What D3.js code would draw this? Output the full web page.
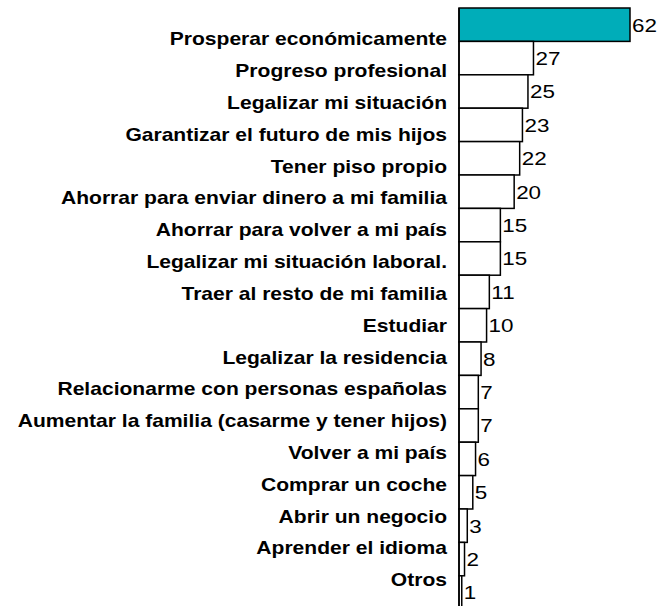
<!DOCTYPE html>
<html>
<head>
<meta charset="utf-8">
<script src="https://cdn.jsdelivr.net/npm/d3@7"></script>
<style>
  body { margin: 0; background: #fff; }
  svg { display: block; font-family: "Liberation Sans", Arial, sans-serif; }
</style>
</head>
<body>
<div id="chart"></div>
<script>
// ----- data ----- //
var categories = [
    "Prosperar económicamente",
    "Progreso profesional",
    "Legalizar mi situación",
    "Garantizar el futuro de mis hijos",
    "Tener piso propio",
    "Ahorrar para enviar dinero a mi familia",
    "Ahorrar para volver a mi país",
    "Legalizar mi situación laboral.",
    "Traer al resto de mi familia",
    "Estudiar",
    "Legalizar la residencia",
    "Relacionarme con personas españolas",
    "Aumentar la familia (casarme y tener hijos)",
    "Volver a mi país",
    "Comprar un coche",
    "Abrir un negocio",
    "Aprender el idioma",
    "Otros"
]
var values = [62, 27, 25, 23, 22, 20, 15, 15, 11, 10, 8, 7, 7, 6, 5, 3, 2, 1]

var data = categories.map(function (c, i) { return { cat: c, val: values[i] } })

// text in the original is a bit stretched sideways
var stretch = 1.17

// ----- svg + scales ----- //
var svg = d3.select("#chart")
    .append("svg")
    .attr("width", 660)
    .attr("height", 606)

var x = d3.scaleLinear()
    .domain([0, 62])
    .range([459, 630])

var y = d3.scaleBand()
    .domain(categories)
    .range([8, 8 + 18 * 33.4])
    .padding(0)

// labels sit on a slightly tighter grid than the bars
var yLabel = d3.scalePoint()
    .domain(categories)
    .range([39, 580])

// ----- bars ----- //
svg.selectAll(".bar")
    .data(data)
    .enter()
    .append("rect")
    .attr("class", "bar")
    .attr("x", x(0))
    .attr("y", function (d) { return y(d.cat) })
    .attr("width", function (d) { return x(d.val) - x(0) })
    .attr("height", y.bandwidth())
    .attr("fill", function (d, i) { return i === 0 ? "#00adb9" : "#fff" })
    .attr("stroke", "#000")
    .attr("stroke-width", 1.5)

// axis line
svg.append("line")
    .attr("x1", x(0)).attr("x2", x(0))
    .attr("y1", y(categories[0])).attr("y2", 606)
    .attr("stroke", "#000")
    .attr("stroke-width", 1.5)

// ----- category labels ----- //
svg.selectAll(".cat")
    .data(data)
    .enter()
    .append("text")
    .attr("class", "cat")
    .attr("transform", function (d) { return "translate(447," + yLabel(d.cat) + ") scale(" + stretch + ",1)" })
    .attr("dy", "0.35em")
    .attr("text-anchor", "end")
    .style("font-size", "18px")
    .style("font-weight", "bold")
    .style("fill", "#000")
    .text(function (d) { return d.cat })

// ----- value labels ----- //
svg.selectAll(".val")
    .data(data)
    .enter()
    .append("text")
    .attr("class", "val")
    .attr("transform", function (d) {
        return "translate(" + (x(d.val) + 2) + "," + (y(d.cat) + y.bandwidth() / 2) + ") scale(1.18,1)"
    })
    .attr("dy", "0.36em")
    .style("font-size", "19px")
    .style("fill", "#000")
    .text(function (d) { return d.val })
</script>
</body>
</html>
